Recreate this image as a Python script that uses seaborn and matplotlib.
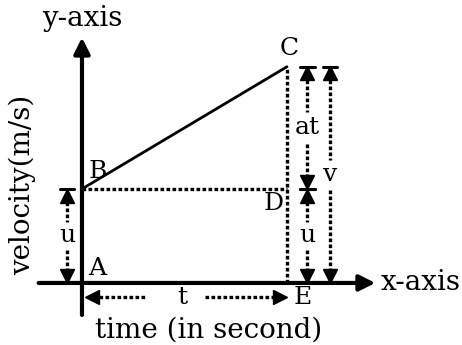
import numpy as np
import pandas as pd
import matplotlib.pyplot as plt
import seaborn as sns

# values of the velocity-time graph
time = [0.0, 1.0]          # A/B at t=0, C/E at t=t
velocity = [1.0, 2.3]      # u at B, v at C
u = velocity[0]
v = velocity[1]
t = time[1]

point_labels = ['A', 'B', 'C', 'D', 'E']
axis_labels = ['y-axis', 'x-axis', 'velocity(m/s)', 'time (in second)']

sns.set_theme(style='white')
plt.rcParams['font.family'] = ['DejaVu Serif']
plt.rcParams['text.color'] = 'black'

fig = plt.figure(figsize=(4.62, 3.45), dpi=100)
ax = fig.add_axes([0, 0, 1, 1])
ax.set_xlim(-0.4, 1.854)
ax.set_ylim(-0.66, 3.01)
ax.axis('off')

FS_LAB = 20   # axis labels
FS_PT = 18    # point letters
FS_DIM = 18   # u, at, v, t
dots = dict(color='black', lw=2.4, ls=(0, (1.1, 0.7)))
head = dict(color='black', ms=10, ls='none')

# axes with arrow heads
ax.annotate('', xy=(0, 2.64), xytext=(0, -0.37),
            arrowprops=dict(arrowstyle='-|>', lw=3, color='black', mutation_scale=24))
ax.annotate('', xy=(1.445, 0), xytext=(-0.225, 0),
            arrowprops=dict(arrowstyle='-|>', lw=3, color='black', mutation_scale=24))

# the line B -> C
df = pd.DataFrame({'time': time, 'velocity': velocity})
sns.lineplot(data=df, x='time', y='velocity', ax=ax, color='black', lw=2)

# dotted guides B-D and C-E
ax.plot([0, t], [u, u], **dots)
ax.plot([t, t], [0, v], **dots)


def dim_arrow(x, y0, y1, label, ymid, gap=0.15):
    hh = 0.14
    ax.plot([x - 0.035, x + 0.035], [y1, y1], color='black', lw=2.2)
    ax.plot([x], [y1 - hh / 2], marker='^', **head)
    ax.plot([x], [y0 + hh / 2], marker='v', **head)
    ax.plot([x, x], [y1 - hh, ymid + gap], **dots)
    ax.plot([x, x], [ymid - gap, y0 + hh], **dots)
    ax.text(x, ymid, label, ha='center', va='center', fontsize=FS_DIM)


dim_arrow(-0.073, 0, u, 'u', u / 2)
dim_arrow(1.10, u, v, 'at', 1.65, gap=0.17)
ax.plot([1.065, 1.135], [u, u], color='black', lw=2.2)
dim_arrow(1.10, 0, u, 'u', u / 2)
dim_arrow(1.21, 0, v, 'v', 1.15, gap=0.16)

# t arrow along the time axis
ty = -0.15
hw = 0.07
ax.plot([hw / 2 + 0.015], [ty], marker='<', **head)
ax.plot([t - hw / 2], [ty], marker='>', **head)
ax.plot([0.015 + hw, 0.31], [ty, ty], **dots)
ax.plot([0.6, t - hw], [ty, ty], **dots)
ax.text(0.49, ty, 't', ha='center', va='center', fontsize=FS_DIM)

# point labels
ax.text(0.03, 0.15, point_labels[0], ha='left', va='center', fontsize=FS_PT)
ax.text(0.03, 1.19, point_labels[1], ha='left', va='center', fontsize=FS_PT)
ax.text(1.01, 2.49, point_labels[2], ha='center', va='center', fontsize=FS_PT)
ax.text(0.985, 0.85, point_labels[3], ha='right', va='center', fontsize=FS_PT)
ax.text(1.03, -0.16, point_labels[4], ha='left', va='center', fontsize=FS_PT)

# axis labels
ax.text(0, 2.81, axis_labels[0], ha='center', va='center', fontsize=FS_LAB)
ax.text(1.455, 0, axis_labels[1], ha='left', va='center', fontsize=FS_LAB)
ax.text(-0.29, 1.04, axis_labels[2], ha='center', va='center', rotation=90, fontsize=FS_LAB)
ax.text(0.62, -0.5, axis_labels[3], ha='center', va='center', fontsize=FS_LAB)

plt.savefig('out.png', dpi=100)
